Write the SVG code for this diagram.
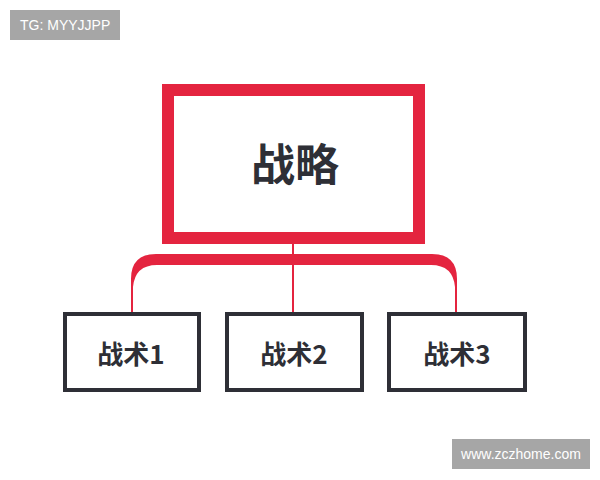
<svg xmlns="http://www.w3.org/2000/svg" width="600" height="480" viewBox="0 0 600 480">
<style>
.box{fill:#fff;stroke:#2e2f36;stroke-width:4}
.lbl{font-family:"Noto Sans CJK SC","Liberation Sans",sans-serif;font-weight:700;fill:#2e2f36;text-anchor:middle}
.wm{fill:#a6a6a6}
.wmt{font-family:"Liberation Sans","DejaVu Sans",sans-serif;font-size:14px;fill:#fff}
</style>
<rect width="600" height="480" fill="#fff"/>
<g id="watermark-top"><rect class="wm" x="10" y="10" width="110" height="30"/><text class="wmt" x="20" y="30">TG: MYYJJPP</text></g>
<g id="watermark-bottom"><rect class="wm" x="452" y="439" width="138" height="30"/><text class="wmt" x="521" y="459" text-anchor="middle">www.zczhome.com</text></g>
<g id="connectors">
<path d="M131 314 L131 279 Q131 254 156 254 L432 254 Q457 254 457 279 L457 314 L455 314 L455 287 Q453 265 431 265 L157 265 Q135 265 133 287 L133 314 Z" fill="#e4243f"/>
<line x1="293" y1="244" x2="293" y2="314" stroke="#e4243f" stroke-width="2"/>
</g>
<g id="strategy">
<rect x="168" y="90" width="251" height="148" fill="#fff" stroke="#e4243f" stroke-width="12"/>
<text class="lbl" x="295" y="181" font-size="44">战略</text>
</g>
<g id="tactic1"><rect class="box" x="65" y="314" width="134" height="76"/><text class="lbl" x="131" y="364" font-size="26">战术1</text></g>
<g id="tactic2"><rect class="box" x="227" y="314" width="135" height="76"/><text class="lbl" x="294" y="364" font-size="26">战术2</text></g>
<g id="tactic3"><rect class="box" x="389" y="314" width="136" height="76"/><text class="lbl" x="457" y="364" font-size="26">战术3</text></g>
</svg>
